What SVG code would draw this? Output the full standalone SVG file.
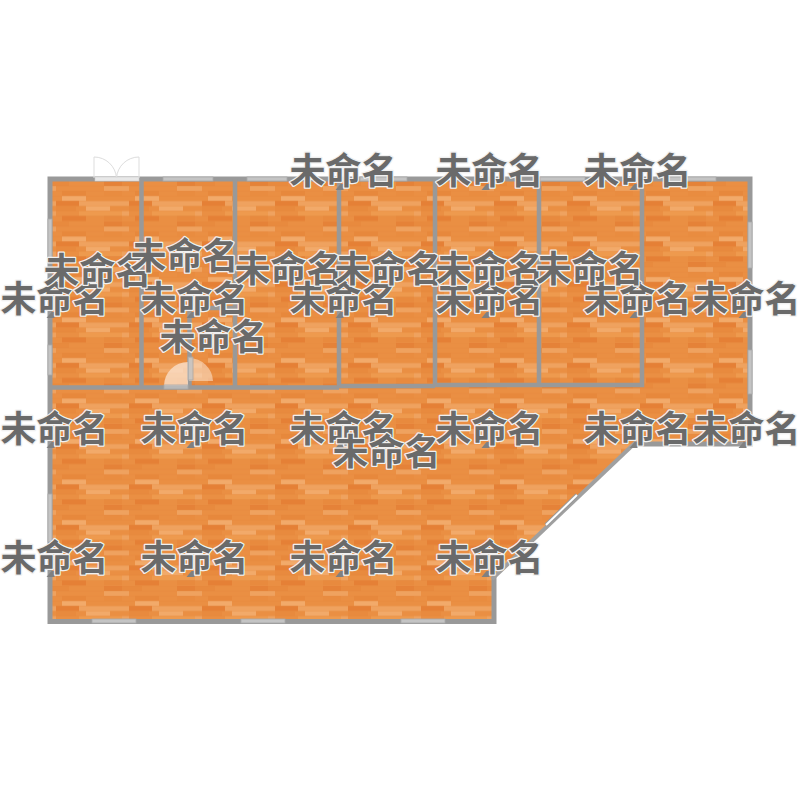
<svg xmlns="http://www.w3.org/2000/svg" width="800" height="800" viewBox="0 0 800 800">
<defs>
<pattern id="wood" x="49" y="181" width="73" height="40.5" patternUnits="userSpaceOnUse">
<rect width="73" height="40.5" fill="#ea8f43"/>
<rect x="0" y="0" width="20" height="5" fill="#e88a3e"/>
<rect x="55" y="0" width="18" height="5" fill="#e58238"/>
<rect x="0" y="5" width="7" height="5" fill="#efa25f"/>
<rect x="55" y="5" width="18" height="5" fill="#efa25f"/>
<rect x="13" y="10" width="24" height="5" fill="#e7883c"/>
<rect x="55" y="10" width="18" height="5" fill="#e98c40"/>
<rect x="13" y="15" width="24" height="5" fill="#f2aa6a"/>
<rect x="0" y="20" width="7" height="5" fill="#efa25f"/>
<rect x="7" y="20" width="23" height="5" fill="#e58036"/>
<rect x="30" y="20" width="43" height="5" fill="#efa25f"/>
<rect x="37" y="25" width="24" height="5" fill="#f2aa6a"/>
<rect x="7" y="25" width="20" height="5" fill="#e88a3e"/>
<rect x="0" y="30" width="7" height="5" fill="#efa25f"/>
<rect x="30" y="30" width="43" height="5" fill="#ee9a4e"/>
<rect x="13" y="35" width="24" height="5" fill="#e58036"/>
<rect x="55" y="35" width="18" height="5" fill="#e88a3e"/>
<path d="M0 0H73M0 5H73M0 10H73M0 15H73M0 20H73M0 25H73M0 30H73M0 35H73" stroke="#d9772c" stroke-opacity=".2" stroke-width=".6"/>
</pattern>
<path id="nub" d="M-8 6L-3 0H0V6Z" fill="#808080"/>
<style>
text{font-family:"Noto Sans CJK SC","Noto Sans CJK JP",sans-serif;font-size:36px;font-weight:700;fill:#6a6a6a;stroke:#f0f0f0;stroke-width:2.5px;paint-order:stroke;text-anchor:middle;stroke-linejoin:round}
.w{fill:none;stroke:#999;stroke-width:5}
.i{fill:none;stroke:#999;stroke-width:4.5}
.win{fill:#c4c4c4;stroke:#a8a8a8;stroke-width:.8}
.arc{fill:none;stroke:#ddd;stroke-width:1}
</style>
</defs>
<g id="floor"><path d="M50 179H750V444H634L494 577V621H50Z" fill="url(#wood)"/></g>
<g id="walls">
<path class="w" d="M634 444H750V179H50V621.5H494V577"/>
<path d="M636 442L492 579" fill="none" stroke="#a0a0a0" stroke-width="4"/>
<path class="i" d="M50 387.500H339M339 386H435M435 385H642V179M141.500 179V387M235 179V387M339 179V386M435 179V385M539 179V385M189.500 387V308H235"/>
</g>
<g id="openings">
<rect x="95" y="177" width="44" height="4" fill="#e8e8e8" stroke="#ccc" stroke-width=".6"/>
<path class="arc" d="M94 157V178M94 157A22.500 22.500 0 0 1 116.500 178M139 157V178M139 157A22.500 22.500 0 0 0 116.500 178"/>
<rect class="win" x="163" y="177" width="50" height="4"/>
<rect class="win" x="247" y="177" width="40" height="4"/>
<rect class="win" x="360" y="177" width="47" height="4"/>
<rect class="win" x="540" y="177" width="45" height="4"/>
<rect class="win" x="664" y="177" width="52" height="4"/>
<rect class="win" x="48" y="219" width="4" height="40"/>
<rect class="win" x="48" y="345" width="4" height="30"/>
<rect class="win" x="48" y="494" width="4" height="48"/>
<rect class="win" x="92" y="619" width="44" height="4"/>
<rect class="win" x="241" y="619" width="44" height="4"/>
<rect class="win" x="401" y="619" width="44" height="4"/>
<rect class="win" x="748" y="222" width="4" height="46"/>
<rect class="win" x="748" y="350" width="4" height="44"/>
<path d="M546 525L577 495" stroke="#999" stroke-width="4"/>
<path d="M546 525L577 495" stroke="#fff" stroke-width="2"/>
<path d="M164 386A24 24 0 0 1 188 362V386Z" fill="#fadfc8" fill-opacity=".8"/>
<path d="M189 358A24 24 0 0 1 213 381H189Z" fill="#fadfc8" fill-opacity=".6"/>
<rect class="win" x="164" y="385" width="24" height="4" fill-opacity=".7"/>
<rect class="win" x="188" y="357" width="5" height="23" fill-opacity=".7"/>
</g>
<g id="labels" transform="translate(.5 1)">
<g id="nubs">
<use href="#nub" x="54" y="311"/><use href="#nub" x="194" y="311"/><use href="#nub" x="343" y="311"/><use href="#nub" x="489" y="311"/><use href="#nub" x="637" y="311"/><use href="#nub" x="746" y="311"/>
<use href="#nub" x="54" y="441"/><use href="#nub" x="194" y="441"/><use href="#nub" x="343" y="441"/><use href="#nub" x="489" y="441"/><use href="#nub" x="637" y="441"/><use href="#nub" x="746" y="441"/>
<use href="#nub" x="54" y="570"/><use href="#nub" x="194" y="570"/><use href="#nub" x="343" y="570"/><use href="#nub" x="489" y="570"/>
<use href="#nub" x="343" y="183"/><use href="#nub" x="489" y="183"/><use href="#nub" x="637" y="183"/>
</g>
<text x="54" y="311">未命名</text><text x="194" y="311">未命名</text><text x="343" y="311">未命名</text><text x="489" y="311">未命名</text><text x="637" y="311">未命名</text><text x="746" y="311">未命名</text>
<text x="54" y="441">未命名</text><text x="194" y="441">未命名</text><text x="343" y="441">未命名</text><text x="489" y="441">未命名</text><text x="637" y="441">未命名</text><text x="746" y="441">未命名</text>
<text x="54" y="570">未命名</text><text x="194" y="570">未命名</text><text x="343" y="570">未命名</text><text x="489" y="570">未命名</text>
<text x="343" y="183">未命名</text><text x="489" y="183">未命名</text><text x="637" y="183">未命名</text>
<text x="97" y="283">未命名</text><text x="184" y="268">未命名</text><text x="288" y="281">未命名</text><text x="388" y="281">未命名</text><text x="489" y="281">未命名</text><text x="589" y="281">未命名</text>
<text x="213" y="349">未命名</text><text x="386" y="464">未命名</text>
</g>
</svg>
